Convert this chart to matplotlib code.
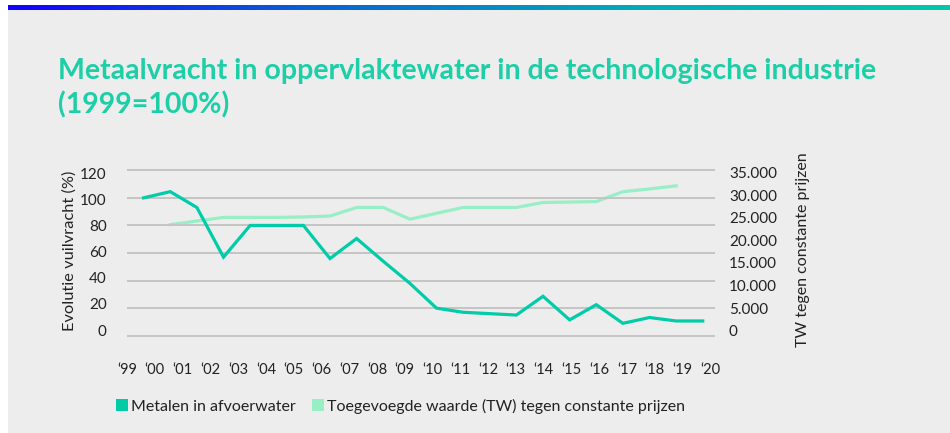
"""
  metaalvracht in oppervlaktewater vs toegevoegde waarde, technologische industrie
"""

import numpy as np
import matplotlib
matplotlib.use("Agg")
import matplotlib.pyplot as plt
from matplotlib.colors import LinearSegmentedColormap
from matplotlib.patches import Rectangle, Patch

plt.rcParams["font.family"] = ["Lato", "DejaVu Sans"]

years = list(range(1999, 2021))
year_labels = ["\u2018{:02d}".format(y % 100) for y in years]

# metalen in afvoerwater, 1999 = 100
metal_years = list(range(1999, 2021))
metal_pct = [100, 104.5, 93, 57, 80, 80, 80, 56, 70.5, 54, 38, 20,
             17, 16, 15, 28.6, 11.5, 22.5, 9, 13.2, 10.7, 10.7]

# toegevoegde waarde (TW) tegen constante prijzen
tw_years = list(range(2000, 2020))
tw_value = [23500, 24300, 25100, 25100, 25100, 25200, 25400, 27300, 27300, 24700,
            26000, 27300, 27300, 27300, 28400, 28500, 28600, 30800, 31400, 32100]

left_ticks = [0, 20, 40, 60, 80, 100, 120]
right_ticks = [0, 5000, 10000, 15000, 20000, 25000, 30000, 35000]
right_tick_labels = ["0", "5.000", "10.000", "15.000", "20.000", "25.000", "30.000", "35.000"]

C_METAL = "#00cca8"
C_TW = "#98efc6"
C_TITLE = "#1ccfa6"
C_TEXT = "#222222"
BG = "#ededed"

W, H = 950, 433
fig = plt.figure(figsize=(W / 100, H / 100), dpi=100, facecolor="white")

# grey panel + gradient band on top
fig.patches.append(Rectangle((8 / W, 0), 1 - 8 / W, (H - 5) / H, transform=fig.transFigure,
                             facecolor=BG, edgecolor="none", zorder=-5))
band = fig.add_axes([8 / W, (H - 10.5) / H, 1 - 8 / W, 5.5 / H])
cmap = LinearSegmentedColormap.from_list("band", ["#1400ff", "#0a64d2", "#03aabb", "#00c8aa"])
band.imshow(np.linspace(0, 1, 256)[None, :], aspect="auto", cmap=cmap)
band.axis("off")

fig.text(58 / W, 1 - 79 / H, "Metaalvracht in oppervlaktewater in de technologische industrie",
         color=C_TITLE, fontsize=20.5, fontweight="bold", ha="left", va="baseline")
fig.text(58 / W, 1 - 113 / H, "(1999=100%)",
         color=C_TITLE, fontsize=20.5, fontweight="bold", ha="left", va="baseline")

# main axes (gridline scale)
x0, x1 = 127, 715
ytop, ybot = 168.9, 337.1
ax = fig.add_axes([x0 / W, 1 - ybot / H, (x1 - x0) / W, (ybot - ytop) / H])
ax.set_xlim(-0.55, 21.46)
ax.set_ylim(-1, 121)
ax.set_yticks(left_ticks)
ax.yaxis.grid(True, color="#c4c4c4", linewidth=1.4)
ax.set_axisbelow(True)
ax.tick_params(axis="y", length=0, labelleft=False)
ax.set_xticks(np.linspace(-0.625, 21.28, len(years)), year_labels)
ax.tick_params(axis="x", length=0, pad=19, labelsize=10.5, labelcolor=C_TEXT)
for s in ax.spines.values():
  s.set_visible(False)

mx = [years.index(y) for y in metal_years]
ax.plot(mx, metal_pct, color=C_METAL, linewidth=2.3, solid_joinstyle="miter", zorder=3)

# right axis (TW)
ax2 = ax.twinx()
tx = [years.index(y) for y in tw_years]
ax2.plot(tx, tw_value, color=C_TW, linewidth=2.3, solid_joinstyle="miter", zorder=2)
ax2.set_ylim(-1441, 35850)
ax2.set_yticks(right_ticks, right_tick_labels)
ax2.tick_params(axis="y", length=0, pad=10, labelsize=11, labelcolor=C_TEXT)
for s in ax2.spines.values():
  s.set_visible(False)

# left tick labels sit a bit off the gridlines in the original
ax3 = ax.twinx()
ax3.set_ylim(-5.46, 123.9)
ax3.yaxis.tick_left()
ax3.set_yticks(left_ticks)
ax3.tick_params(axis="y", length=0, pad=14.5, labelsize=11, labelcolor=C_TEXT)
for s in ax3.spines.values():
  s.set_visible(False)
ax2.set_zorder(ax.get_zorder() - 1)
ax.patch.set_visible(False)
ax2.patch.set_visible(False)

fig.text(70 / W, 1 - 251 / H, "Evolutie vuilvracht (%)", rotation=90, fontsize=11.8,
         color=C_TEXT, ha="center", va="center")
fig.text(803 / W, 1 - 250 / H, "TW tegen constante prijzen", rotation=90, fontsize=11.5,
         color=C_TEXT, ha="center", va="center")

handles = [Patch(facecolor=C_METAL, edgecolor="none"), Patch(facecolor=C_TW, edgecolor="none")]
fig.legend(handles, ["Metalen in afvoerwater", "Toegevoegde waarde (TW) tegen constante prijzen"],
           loc="center left", bbox_to_anchor=(116 / W, 1 - 406 / H), ncol=2, frameon=False,
           fontsize=11.5, handlelength=0.75, handleheight=0.75, handletextpad=0.2,
           columnspacing=1.0, labelcolor=C_TEXT, borderaxespad=0, borderpad=0)

fig.savefig("out.png", dpi=100, facecolor=fig.get_facecolor())
